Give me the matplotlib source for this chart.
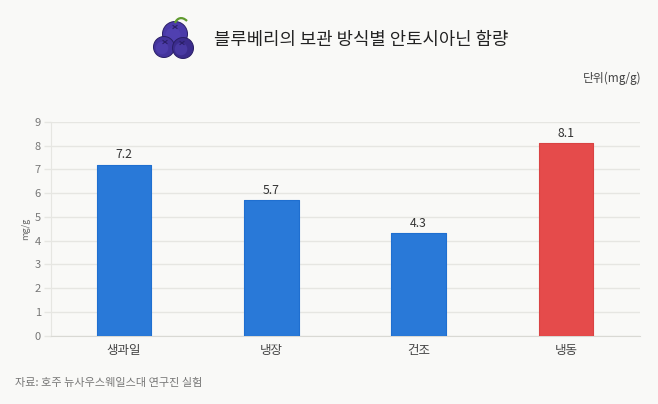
import matplotlib
matplotlib.use('Agg')
import matplotlib.pyplot as plt
from matplotlib.patches import Circle, PathPatch
from matplotlib.path import Path

plt.rcParams['font.family'] = ['Noto Sans CJK KR', 'DejaVu Sans']

# Anthocyanin content by storage method
categories = ['생과일', '냉장', '건조', '냉동']
values = [7.2, 5.7, 4.3, 8.1]
y_ticks = list(range(10))

W, H = 658, 404
BG = '#f9f9f7'
BLUE = '#2979d8'
BLUE_EDGE = '#1f6fd0'
RED = '#e54b4b'
RED_EDGE = '#d94343'

fig = plt.figure(figsize=(W / 100, H / 100), dpi=100, facecolor=BG)

# Plot area in pixel terms
left, right, top, bottom = 50.5, 639.5, 122, 335.5
ax = fig.add_axes([left / W, 1 - bottom / H, (right - left) / W, (bottom - top) / H])
ax.set_facecolor(BG)

x = range(len(categories))
colors = [BLUE, BLUE, BLUE, RED]
edges = [BLUE_EDGE, BLUE_EDGE, BLUE_EDGE, RED_EDGE]
bars = ax.bar(x, values, width=0.37, color=colors, edgecolor=edges, linewidth=0.8, zorder=3)
for b in bars:
    b.set_joinstyle('round')

for i, v in zip(x, values):
    ax.annotate(f'{v:.1f}', (i, v), xytext=(0, 2.5), textcoords='offset points',
                ha='center', va='bottom', fontsize=8.8, color='#333333', zorder=4)

ax.set_xlim(-0.5, 3.5)
ax.set_ylim(0, 9)
ax.set_xticks(list(x))
ax.set_xticklabels(categories, fontsize=9, color='#444444')
ax.set_yticks(y_ticks)
ax.set_yticklabels([str(t) for t in y_ticks], fontsize=8, color='#777777')
ax.tick_params(axis='x', length=0, pad=6)
ax.tick_params(axis='y', length=5, color='#e6e6e2', width=1, pad=2)
ax.grid(axis='y', color='#e6e6e2', linewidth=1, zorder=0)
ax.set_axisbelow(True)
for side in ['top', 'right']:
    ax.spines[side].set_visible(False)
ax.spines['left'].set_color('#e6e6e2')
ax.spines['bottom'].set_color('#d9d9d4')
ax.set_ylabel('mg/g', fontsize=6.5, color='#666666', labelpad=3.5)

# Overlay in pixel coordinates for the title block and berry icon
ov = fig.add_axes([0, 0, 1, 1], zorder=5)
ov.set_xlim(0, W)
ov.set_ylim(H, 0)
ov.axis('off')

ov.text(214, 39.5, '블루베리의 보관 방식별 안토시아닌 함량', fontsize=12.8, color='#222222',
        ha='left', va='center')
ov.text(641, 78.5, '단위(mg/g)', fontsize=8.5, color='#444444', ha='right', va='center')
ov.text(15, 382.5, '자료: 호주 뉴사우스웨일스대 연구진 실험', fontsize=8, color='#777777',
        ha='left', va='center')

# Blueberry icon, top berry sits behind the two lower ones
for cx, cy, r, c in [(175, 34, 12.5, '#4a3aa8'), (164, 47, 10.5, '#44349c'), (183, 48, 10.5, '#3b2c8c')]:
    ov.add_patch(Circle((cx, cy), r, facecolor=c, edgecolor='#2a1f66', linewidth=0.7))
    ov.add_patch(Circle((cx - 2, cy + 1), r * 0.6, facecolor='#5646b8', edgecolor='none', alpha=0.5))
for cx, cy in [(175, 27), (165, 42), (182, 43)]:
    ov.plot([cx - 2, cx + 2], [cy - 1.5, cy + 1.5], color='#2a1f66', linewidth=0.8)
    ov.plot([cx - 2, cx + 2], [cy + 1.5, cy - 1.5], color='#2a1f66', linewidth=0.8)
stem = Path([(175, 23), (177, 18), (182, 16), (187, 21)], [Path.MOVETO, Path.CURVE4, Path.CURVE4, Path.CURVE4])
ov.add_patch(PathPatch(stem, facecolor='none', edgecolor='#5f9a2e', linewidth=1.6))

fig.savefig('out.png', dpi=100, facecolor=BG)
plt.close(fig)
